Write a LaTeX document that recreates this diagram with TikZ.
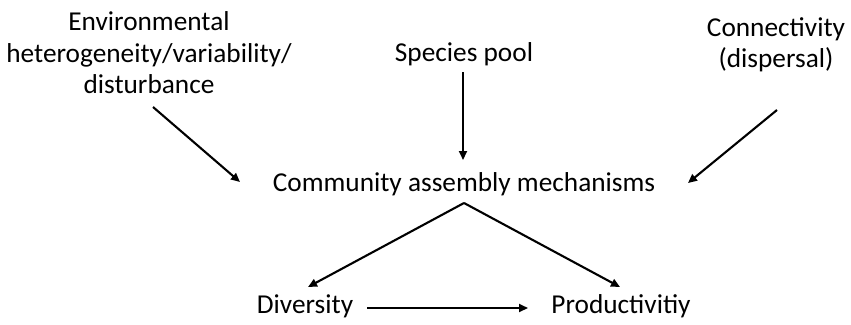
\documentclass[tikz,border=0pt]{standalone}
\usepackage{fontspec}
\setmainfont{Carlito}
\usetikzlibrary{arrows.meta}
\begin{document}
\begin{tikzpicture}[x=1pt,y=-1pt,
  lbl/.style={inner sep=0pt,align=center,font=\fontsize{27.3}{31.5}\selectfont},
  arr/.style={line width=2.1pt,-{Triangle[length=9pt,width=8pt]}}]
\useasboundingbox (0,0) rectangle (851,324);
\node[lbl] (env) at (149,53) {Environmental\\heterogeneity/variability/\\disturbance};
\node[lbl] (pool) at (464,54) {Species pool};
\node[lbl] (conn) at (776,45) {Connectivity\\(dispersal)};
\node[lbl] (cam) at (464,184) {Community assembly mechanisms};
\node[lbl] (div) at (305,306) {Diversity};
\node[lbl] (prod) at (621,306) {Productivitiy};
\coordinate (e1) at (153,107); \coordinate (e2) at (240,182);
\coordinate (p1) at (463,72); \coordinate (p2) at (463,160);
\coordinate (c1) at (777,110); \coordinate (c2) at (688,183);
\coordinate (apex) at (464,203);
\coordinate (d2) at (308,287); \coordinate (r2) at (620,287);
\coordinate (h1) at (367,308); \coordinate (h2) at (528,308);
\draw[arr] (e1) -- (e2);
\draw[arr] (p1) -- (p2);
\draw[arr] (c1) -- (c2);
\draw[arr] (apex) -- (d2);
\draw[arr] (apex) -- (r2);
\draw[arr] (h1) -- (h2);
\end{tikzpicture}
\end{document}
